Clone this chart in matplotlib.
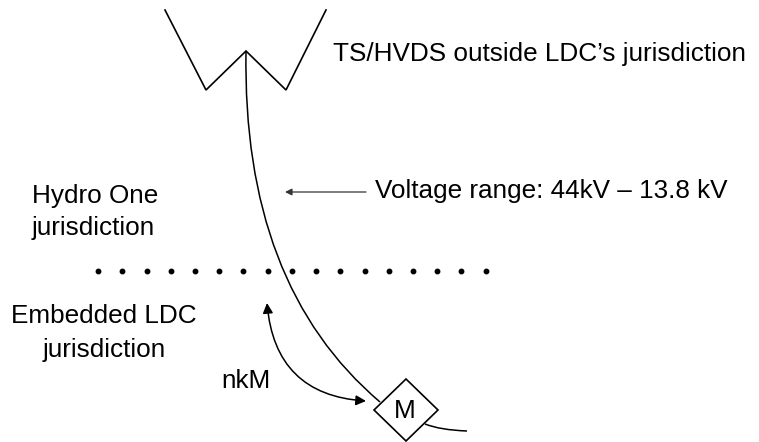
import matplotlib
matplotlib.use("Agg")
import matplotlib.pyplot as plt
from matplotlib.path import Path
from matplotlib.patches import PathPatch, Polygon, FancyArrowPatch

plt.rcParams['font.family'] = ['Liberation Sans', 'DejaVu Sans']

# diagram geometry (pixel space, y down)
w_points = [(165, 10), (206, 90), (246, 51), (286, 90), (326, 10)]
feeder = [(246, 51), (242, 285), (380, 402)]
tail = [(425, 424), (440, 430), (467, 431)]
diamond = [(374, 410), (406, 379), (438, 410), (406, 441)]
dots_x = [98, 122, 147, 171, 195, 219, 243, 268, 292, 316, 340, 365, 389, 413, 437, 461, 486]
dots_y = 271
nkm_arrow = [(267, 303), (275, 395), (366, 401)]
voltage_arrow = [(366, 192), (285, 192)]

# labels: text, x, y(baseline), ha
labels = [
    ("TS/HVDS outside LDC\u2019s jurisdiction", 333, 61.5, 'left'),
    ("Voltage range: 44kV \u2013 13.8 kV", 375, 198, 'left'),
    ("Hydro One", 32, 203, 'left'),
    ("jurisdiction", 32, 235.5, 'left'),
    ("Embedded LDC", 104, 323, 'center'),
    ("jurisdiction", 104, 357, 'center'),
    ("nkM", 246, 388, 'center'),
    ("M", 405, 418, 'center'),
]

fig = plt.figure(figsize=(7.59, 4.42), dpi=100)
ax = fig.add_axes([0, 0, 1, 1])
ax.set_xlim(0, 759)
ax.set_ylim(442, 0)
ax.axis('off')

xs, ys = zip(*w_points)
ax.plot(xs, ys, color='black', lw=1.2, solid_joinstyle='miter')

ax.add_patch(PathPatch(Path(feeder, [Path.MOVETO, Path.CURVE3, Path.CURVE3]),
                       fc='none', ec='black', lw=1.1))
ax.add_patch(PathPatch(Path(tail, [Path.MOVETO, Path.CURVE3, Path.CURVE3]),
                       fc='none', ec='black', lw=1.1))
ax.add_patch(Polygon(diamond, closed=True, fc='white', ec='black', lw=1.2, zorder=3))

ax.plot(dots_x, [dots_y] * len(dots_x), 'o', color='black', ms=3.2, ls='none')

ax.add_patch(FancyArrowPatch(path=Path(nkm_arrow, [Path.MOVETO, Path.CURVE3, Path.CURVE3]),
                             arrowstyle='<|-|>,head_length=6,head_width=3',
                             color='black', lw=1.1, shrinkA=0, shrinkB=0))
ax.add_patch(FancyArrowPatch(voltage_arrow[0], voltage_arrow[1],
                             arrowstyle='-|>,head_length=4,head_width=2',
                             color='#333333', lw=0.9, shrinkA=0, shrinkB=0))

for txt, x, y, ha in labels:
    ax.text(x, y, txt, ha=ha, va='baseline', fontsize=18.8, color='black', zorder=4)

fig.savefig('out.png', dpi=100)
